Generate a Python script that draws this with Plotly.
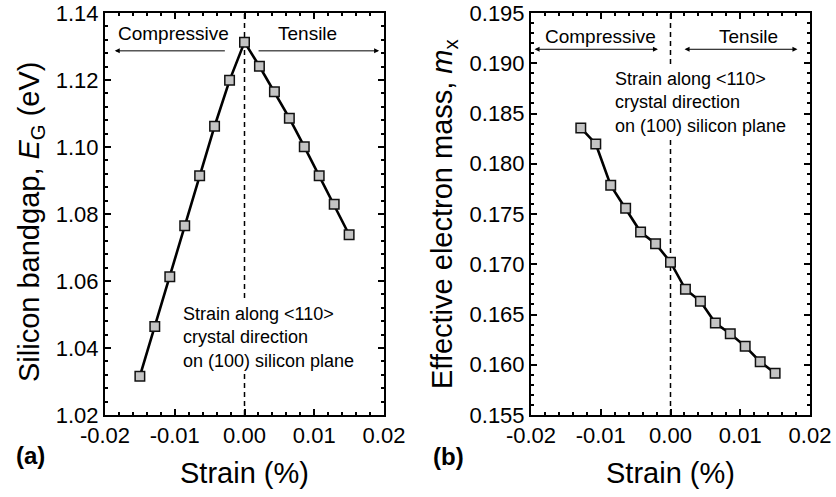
import plotly.graph_objects as go

# ---- data ----
strain_a = [-0.015, -0.01286, -0.01071, -0.00857, -0.00643, -0.00429, -0.00214, 0.0,
            0.00214, 0.00429, 0.00643, 0.00857, 0.01071, 0.01286, 0.015]
bandgap = [1.0316, 1.0464, 1.0613, 1.0765, 1.0914, 1.1062, 1.1199, 1.1313,
           1.1241, 1.1165, 1.1086, 1.1001, 1.0914, 1.0829, 1.0738]

strain_b = [-0.01286, -0.01071, -0.00857, -0.00643, -0.00429, -0.00214, 0.0,
            0.00214, 0.00429, 0.00643, 0.00857, 0.01071, 0.01286, 0.015]
mass = [0.18356, 0.18197, 0.17785, 0.17557, 0.17321, 0.17205, 0.1702,
        0.16751, 0.16631, 0.16415, 0.16309, 0.16183, 0.1603, 0.15915]

x_tickvals = [-0.02, -0.01, 0.0, 0.01, 0.02]
x_ticktext = ["-0.02", "-0.01", "0.00", "0.01", "0.02"]
ya_tickvals = [1.02, 1.04, 1.06, 1.08, 1.10, 1.12, 1.14]
ya_ticktext = ["1.02", "1.04", "1.06", "1.08", "1.10", "1.12", "1.14"]
yb_tickvals = [0.155, 0.160, 0.165, 0.170, 0.175, 0.180, 0.185, 0.190, 0.195]
yb_ticktext = ["0.155", "0.160", "0.165", "0.170", "0.175", "0.180", "0.185", "0.190", "0.195"]

FONT = "Liberation Sans, Arial, sans-serif"

fig = go.Figure()
marker = dict(symbol="square", size=9.5, color="#c4c4c4", line=dict(color="#111", width=1.5))
fig.add_trace(go.Scatter(x=strain_a, y=bandgap, mode="lines+markers", xaxis="x", yaxis="y",
                         line=dict(color="black", width=2.6), marker=marker, showlegend=False))
fig.add_trace(go.Scatter(x=strain_b, y=mass, mode="lines+markers", xaxis="x2", yaxis="y2",
                         line=dict(color="black", width=2.6), marker=marker, showlegend=False))

W, H = 836, 497
def px(v):
    return v / W
def py(v):
    return 1 - v / H

ydom = [py(415), py(13)]
axis_common = dict(showline=True, linecolor="black", linewidth=2, mirror="ticks",
                   ticks="inside", ticklen=6, tickwidth=1.5, tickcolor="black",
                   showgrid=False, zeroline=False, automargin=False, ticklabeloverflow="allow",
                   tickfont=dict(family=FONT, size=22, color="black"),
                   minor=dict(ticks="inside", ticklen=3, tickwidth=1.5, tickcolor="black", showgrid=False))

fig.update_layout(
    template="simple_white",
    width=W, height=H, margin=dict(l=0, r=0, t=0, b=0, autoexpand=False),
    paper_bgcolor="white", plot_bgcolor="white",
    font=dict(family=FONT, color="black"),
    xaxis=dict(domain=[px(105), px(384)], range=[-0.02, 0.02], anchor="y",
               tickvals=x_tickvals, ticktext=x_ticktext, **axis_common),
    yaxis=dict(domain=ydom, range=[1.02, 1.14], anchor="x",
               tickvals=ya_tickvals, ticktext=ya_ticktext, **axis_common),
    xaxis2=dict(domain=[px(531), px(810)], range=[-0.02, 0.02], anchor="y2",
                tickvals=x_tickvals, ticktext=x_ticktext, **axis_common),
    yaxis2=dict(domain=ydom, range=[0.155, 0.195], anchor="x2",
                tickvals=yb_tickvals, ticktext=yb_ticktext, **axis_common),
)
fig.layout.xaxis.minor.dtick = 0.002
fig.layout.xaxis2.minor.dtick = 0.002
fig.layout.yaxis.minor.dtick = 0.004
fig.layout.yaxis2.minor.dtick = 0.001
fig.layout.xaxis.minor.tick0 = 0
fig.layout.xaxis2.minor.tick0 = 0
fig.layout.yaxis.minor.tick0 = 1.02
fig.layout.yaxis2.minor.tick0 = 0.155

# dashed zero lines
for xr, yr in (("x", "y"), ("x2", "y2")):
    fig.add_shape(type="line", xref=xr, yref=yr + " domain", x0=0, x1=0, y0=0, y1=1, opacity=1,
                  line=dict(color="black", width=1.5, dash="5px,4px"), layer="below")

arrow = dict(text="", showarrow=True, arrowhead=2, arrowsize=1, arrowwidth=1,
             arrowcolor="black", standoff=0)
C = dict(xanchor="center", yanchor="middle", showarrow=False)
ann = []
# arrows panel a
ann.append(dict(xref="x", yref="y", axref="x", ayref="y", x=-0.0186, y=1.1287, ax=-0.0026, ay=1.1287, **arrow))
ann.append(dict(xref="x", yref="y", axref="x", ayref="y", x=0.0193, y=1.1287, ax=0.0018, ay=1.1287, **arrow))
ann.append(dict(xref="x", yref="y", x=-0.0102, y=1.134, text="Compressive", font=dict(size=19), **C))
ann.append(dict(xref="x", yref="y", x=0.009, y=1.134, text="Tensile", font=dict(size=19), **C))
ann.append(dict(xref="x", yref="y", x=-0.0092, y=1.043, xanchor="left", yanchor="middle", align="left",
                text="Strain along &lt;110&gt;<br>crystal direction<br>on (100) silicon plane",
                showarrow=False, font=dict(size=18), bgcolor="white", borderpad=2))
# arrows panel b (double headed)
arrow2 = dict(arrow, startarrowhead=2, arrowside="end+start", startarrowsize=1, startstandoff=0)
ann.append(dict(xref="x2", yref="y2", axref="x2", ayref="y2", x=-0.0018, y=0.19139, ax=-0.0197, ay=0.19139, **arrow2))
ann.append(dict(xref="x2", yref="y2", axref="x2", ayref="y2", x=0.0182, y=0.19139, ax=0.0018, ay=0.19139, **arrow2))
ann.append(dict(xref="x2", yref="y2", x=-0.0101, y=0.19271, text="Compressive", font=dict(size=19), **C))
ann.append(dict(xref="x2", yref="y2", x=0.0112, y=0.19271, text="Tensile", font=dict(size=19), **C))
ann.append(dict(xref="x2", yref="y2", x=-0.0084, y=0.1861, xanchor="left", yanchor="middle", align="left",
                text="Strain along &lt;110&gt;<br>crystal direction<br>on (100) silicon plane",
                showarrow=False, font=dict(size=18), bgcolor="white", borderpad=2))
# axis titles
ann.append(dict(xref="paper", yref="paper", x=px(244.5), y=py(473), text="Strain (%)",
                font=dict(size=29), **C))
ann.append(dict(xref="paper", yref="paper", x=px(670.5), y=py(473), text="Strain (%)",
                font=dict(size=29), **C))
ann.append(dict(xref="paper", yref="paper", x=px(31), y=py(222), textangle=-90,
                text="Silicon bandgap, <i>E</i><sub>G</sub> (eV)", font=dict(size=29), **C))
ann.append(dict(xref="paper", yref="paper", x=px(444), y=py(214), textangle=-90,
                text="Effective electron mass, <i>m</i><sub>x</sub>", font=dict(size=29), **C))
# panel labels
ann.append(dict(xref="paper", yref="paper", x=px(30), y=py(455), text="<b>(a)</b>",
                font=dict(size=24), **C))
ann.append(dict(xref="paper", yref="paper", x=px(448), y=py(456), text="<b>(b)</b>",
                font=dict(size=24), **C))
fig.update_layout(annotations=ann)

# remove the default 8px page margin so the 836x497 figure fills the window exactly
fig.write_html("out.html", config={"displayModeBar": False},
               post_script="document.body.style.margin='0';window.dispatchEvent(new Event('resize'));")
